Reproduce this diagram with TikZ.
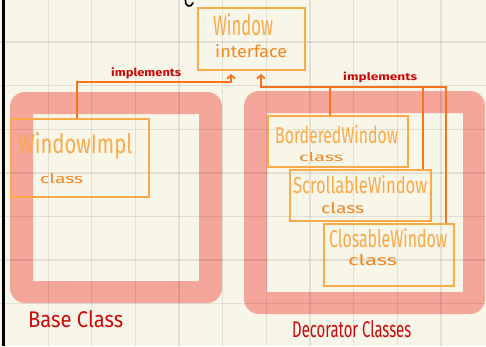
\documentclass[tikz,border=0pt]{standalone}
\usepackage{fontspec}
\setmainfont{Fira Sans}
\usepackage{graphicx}
\usetikzlibrary{arrows.meta}

\definecolor{paper}{HTML}{F8F5E9}
\definecolor{framepink}{HTML}{F5A69B}
\definecolor{boxline}{HTML}{FBAA48}
\definecolor{subtxt}{HTML}{F5861F}
\definecolor{wire}{HTML}{F7741C}
\definecolor{notered}{HTML}{CC0A0A}

% handwritten-looking text squeezed to a given width and height (pt)
\newcommand\hw[3]{\resizebox{#1pt}{#2pt}{#3}}

\begin{document}
\begin{tikzpicture}[x=1pt,y=-1pt,
  gridline/.style={draw=black, opacity=0.085, line width=1.3pt},
  cls/.style={draw=boxline, line width=2pt, inner sep=0pt, rectangle},
  title/.style={inner sep=0pt, anchor=base west, text=boxline},
  kind/.style={inner sep=0pt, anchor=base west, text=subtxt},
  lbl/.style={inner sep=0pt, anchor=base west, text=notered},
  conn/.style={draw=wire, line width=1.8pt},
  barb/.tip={Straight Barb[length=3.5pt, width=8pt]}
]
\useasboundingbox (0,0) rectangle (486,346);
\fill[paper] (0,0) rectangle (486,346);

% group frames
\fill[framepink, even odd rule]
  (10,92) [rounded corners=15pt] rectangle (222,303)
  [sharp corners] (33,114) rectangle (199,281);
\fill[framepink, even odd rule]
  (244,91) [rounded corners=15pt] rectangle (485,314)
  [sharp corners] (267,113) rectangle (463,292);

% squared paper
\foreach \k in {1,...,10}
  \draw[gridline] ({4.5+43.65*\k},0) -- ({4.5+43.65*\k},346);
\foreach \k in {1,...,7}
  \draw[gridline] (0,{-1.5+43.6*\k}) -- (486,{-1.5+43.6*\k});

% margin line and stray pen stroke
\draw[black, line width=2.6pt] (3.2,0) -- (3.2,346);
\draw[black, line width=1.6pt, line cap=round]
  (185.5,0) .. controls (185,7) and (191,8) .. (193,3);

% class boxes
\node[cls, minimum width=107pt, minimum height=62pt] (win)  at (251.5,39)  {};
\node[cls, minimum width=138pt, minimum height=78pt] (impl) at (80,158)    {};
\node[cls, minimum width=140pt, minimum height=51pt] (bord) at (338,141.5) {};
\node[cls, minimum width=141pt, minimum height=51pt] (scrl) at (360.5,195.5) {};
\node[cls, minimum width=130pt, minimum height=62pt] (clos) at (389,255)   {};

% box texts
\node[title] (winT)  at (213,35)  {\hw{60}{22}{Window}};
\node[kind]  (winK)  at (215,57)  {\hw{72}{13}{interface}};
\node[title] (implT) at (18,153)  {\hw{114}{21}{WindowImpl}};
\node[kind]  (implK) at (40,183)  {\hw{43}{10}{class}};
\node[title] (bordT) at (275,143) {\hw{123}{18}{BorderedWindow}};
\node[kind]  (bordK) at (299,161) {\hw{44}{9}{class}};
\node[title] (scrlT) at (293,193) {\hw{134}{18}{ScrollableWindow}};
\node[kind]  (scrlK) at (321,213) {\hw{43}{11}{class}};
\node[title] (closT) at (329,247) {\hw{118}{19}{ClosableWindow}};
\node[kind]  (closK) at (348,265) {\hw{49}{11}{class}};

% labels
\node[lbl] (implA) at (111,76)  {\hw{70}{9}{\bfseries implements}};
\node[lbl] (implB) at (343,80)  {\hw{74}{8.5}{\bfseries implements}};
\node[lbl] (baseL) at (28,327)  {\hw{95}{17}{Base Class}};
\node[lbl] (decoL) at (292,337) {\hw{119}{17}{Decorator Classes}};

% implements connectors
\draw[conn, -barb, shorten >=3pt]
  ([xshift=-3pt]impl.north) -- ++(0,-36) -| ([xshift=-20.5pt]win.south);
\draw[conn, barb-, shorten <=3pt]
  ([xshift=9.5pt]win.south) -- ++(0,16) coordinate (bus)
  -| ([xshift=57pt]clos.north);
\draw[conn] ([xshift=-8pt]bord.north |- bus) -- ([xshift=-8pt]bord.north);
\draw[conn] ([xshift=62.5pt]scrl.north |- bus) -- ([xshift=62.5pt]scrl.north);
\end{tikzpicture}
\end{document}
